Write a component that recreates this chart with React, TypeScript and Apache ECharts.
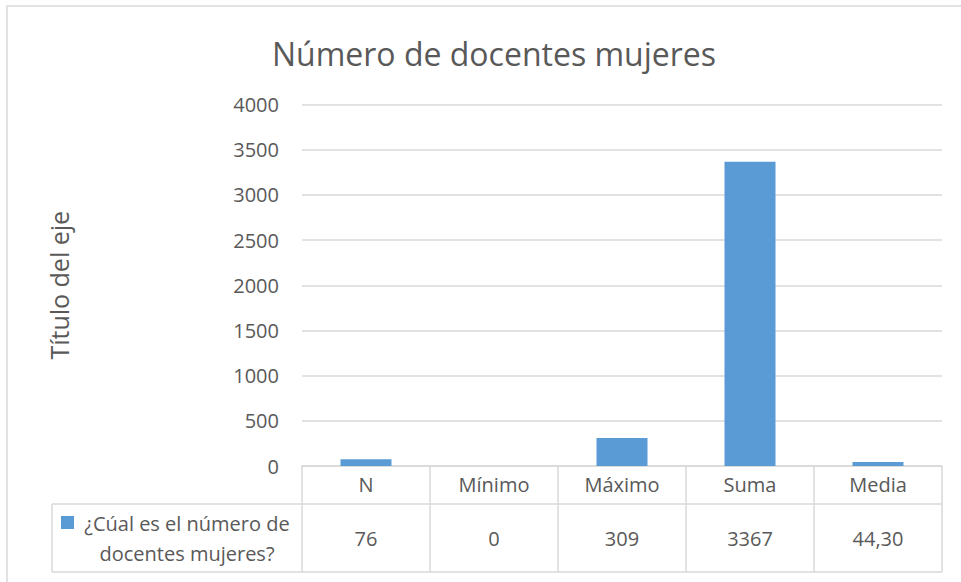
import React, { useEffect, useRef } from "react";
import * as echarts from "echarts";

const titleText = "Número de docentes mujeres";
const yAxisTitle = "Título del eje";
const seriesName = "¿Cúal es el número de docentes mujeres?";
const seriesNameLines = ["¿Cúal es el número de", "docentes mujeres?"];
const categories = ["N", "Mínimo", "Máximo", "Suma", "Media"];
const values = [76, 0, 309, 3367, 44.3];
const tableLabels = ["76", "0", "309", "3367", "44,30"];
const yTicks = [0, 500, 1000, 1500, 2000, 2500, 3000, 3500, 4000];

const W = 961;
const H = 582;
const FONT = "'Open Sans', sans-serif";
const TEXT = "#595959";
const LINE = "#d9d9d9";
const BAR = "#5B9BD5";

const G_LEFT = 302;
const G_RIGHT = 942;
const G_TOP = 104.5;
const G_BOTTOM = 466;
const ROW1_BOTTOM = 504;
const ROW2_BOTTOM = 572;
const LEGEND_LEFT = 52;

export default function App() {
  const ref = useRef<HTMLDivElement>(null);
  useEffect(() => {
    if (!ref.current) return;
    const chart = echarts.init(ref.current, undefined, { renderer: "svg" });
    const colW = (G_RIGHT - G_LEFT) / categories.length;
    const graphics: any[] = [];
    graphics.push({
      type: "rect",
      shape: { x: 7, y: 6, width: W, height: H },
      style: { fill: "none", stroke: LINE, lineWidth: 1.5 },
      silent: true,
    });
    const hLine = (x1: number, x2: number, y: number) =>
      graphics.push({
        type: "line",
        shape: { x1, y1: y, x2, y2: y },
        style: { stroke: LINE, lineWidth: 1.5 },
      });
    const vLine = (x: number, y1: number, y2: number) =>
      graphics.push({
        type: "line",
        shape: { x1: x, y1, x2: x, y2 },
        style: { stroke: LINE, lineWidth: 1.5 },
      });
    hLine(LEGEND_LEFT, G_RIGHT, ROW1_BOTTOM);
    hLine(LEGEND_LEFT, G_RIGHT, ROW2_BOTTOM);
    vLine(LEGEND_LEFT, ROW1_BOTTOM, ROW2_BOTTOM);
    for (let i = 0; i <= categories.length; i++) {
      vLine(G_LEFT + i * colW, G_BOTTOM, ROW2_BOTTOM);
    }
    const rowMid = (ROW1_BOTTOM + ROW2_BOTTOM) / 2;
    tableLabels.forEach((t, i) => {
      graphics.push({
        type: "text",
        x: G_LEFT + (i + 0.5) * colW,
        y: rowMid,
        style: {
          text: t,
          fill: TEXT,
          font: `20px ${FONT}`,
          align: "center",
          verticalAlign: "middle",
        },
      });
    });
    graphics.push({
      type: "rect",
      shape: { x: 61, y: 516, width: 13, height: 13 },
      style: { fill: BAR },
    });
    graphics.push({
      type: "text",
      x: 187,
      y: rowMid,
      style: {
        text: seriesNameLines.join("\n"),
        fill: TEXT,
        font: `20px ${FONT}`,
        align: "center",
        verticalAlign: "middle",
        lineHeight: 30,
      },
    });

    chart.setOption({
      animation: false,
      title: {
        text: titleText,
        left: 489,
        top: 32,
        textAlign: "center",
        textStyle: {
          fontFamily: FONT,
          fontSize: 32,
          fontWeight: "normal",
          color: TEXT,
        },
      },
      grid: {
        left: G_LEFT,
        right: W - G_RIGHT,
        top: G_TOP,
        bottom: H - G_BOTTOM,
        containLabel: false,
      },
      xAxis: {
        type: "category",
        data: categories,
        axisLine: { lineStyle: { color: LINE, width: 1.5 } },
        axisTick: { show: false },
        axisLabel: {
          color: TEXT,
          fontFamily: FONT,
          fontSize: 20,
          margin: 8,
        },
      },
      yAxis: {
        type: "value",
        min: 0,
        max: 4000,
        interval: 500,
        name: yAxisTitle,
        nameLocation: "middle",
        nameGap: 231,
        nameTextStyle: { color: TEXT, fontFamily: FONT, fontSize: 25 },
        axisLine: { show: false },
        axisTick: { show: false },
        axisLabel: {
          color: TEXT,
          fontFamily: FONT,
          fontSize: 20,
          margin: 23,
          formatter: (v: number) => (yTicks.includes(v) ? String(v) : ""),
        },
        splitLine: { lineStyle: { color: LINE, width: 1.5 } },
      },
      series: [
        {
          name: seriesName,
          type: "bar",
          data: values,
          barWidth: 51,
          itemStyle: { color: BAR },
        },
      ],
      graphic: graphics,
    });
    return () => chart.dispose();
  }, []);
  return <div ref={ref} style={{ width: W, height: H, position: "absolute", left: 0, top: 0 }} />;
}
